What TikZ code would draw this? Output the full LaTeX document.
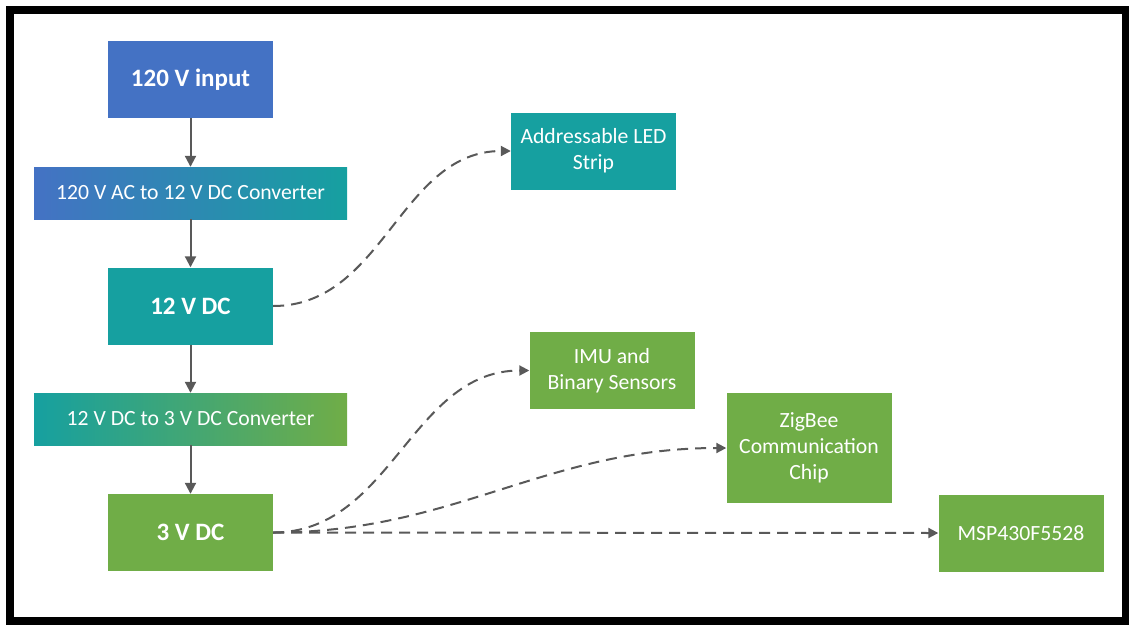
\documentclass[tikz,border=0pt]{standalone}
\usepackage{fontspec}
\setmainfont{Carlito}
\usepackage{tikz}
\usetikzlibrary{arrows.meta}
\definecolor{officeblue}{RGB}{68,114,196}
\definecolor{officeteal}{RGB}{22,160,160}
\definecolor{officegreen}{RGB}{112,173,71}
\definecolor{linegray}{RGB}{89,89,89}
\tikzstyle{block} = [rectangle, text=white, align=center, inner sep=0pt, font=\fontsize{21.7}{26}\selectfont]
\tikzstyle{supply} = [
    block,
    minimum width=165pt,
    minimum height=77pt,
    font=\fontsize{25}{30}\selectfont\bfseries
]
\tikzstyle{converter} = [block, minimum width=313pt, minimum height=52pt]
\tikzstyle{load} = [block, minimum width=165pt, minimum height=77pt]
\tikzstyle{feed} = [-{Triangle[length=11pt, width=11pt]}, draw=linegray, line width=2pt]
\tikzstyle{link} = [feed, -{Triangle[length=10pt, width=10pt]}, dash pattern=on 11pt off 7pt]

\begin{document}
\begin{tikzpicture}[x=1pt, y=-1pt]
    \useasboundingbox (0, 0) rectangle (1129, 624);

    % Frame.
    \draw [line width=8pt] (9.5, 10) rectangle (1126, 621);

    % Nodes.
    \node (supply ac) [supply, fill=officeblue] at (190.5, 79.5) {120 V input};
    \node (converter ac) [converter, left color=officeblue, right color=officeteal] at (190.5, 193) {120 V AC to 12 V DC Converter};
    \node (supply 12) [supply, fill=officeteal] at (190.5, 306) {12 V DC};
    \node (converter dc) [converter, left color=officeteal, right color=officegreen] at (190.5, 419) {12 V DC to 3 V DC Converter};
    \node (supply 3) [supply, fill=officegreen] at (190.5, 532.5) {3 V DC};

    \node (led strip) [load, fill=officeteal] at (593.5, 151) {Addressable LED\\Strip};
    \node (imu) [load, fill=officegreen] at (612, 370.5) {IMU and\\Binary Sensors};
    \node (zigbee) [load, fill=officegreen, minimum height=110pt] at (809, 448) {ZigBee\\Communication\\Chip};
    \node (msp) [load, fill=officegreen] at (1021, 533) {MSP430F5528};

    % Paths.
    \draw [feed] (supply ac) -- (converter ac);
    \draw [feed] (converter ac) -- (supply 12);
    \draw [feed] (supply 12) -- (converter dc);
    \draw [feed] (converter dc) -- (supply 3);

    % Loads.
    \draw [link] (supply 12.east) to [out=0, in=180] (led strip.west);
    \draw [link] (supply 3.east) to [out=0, in=180] (imu.west);
    \draw [link] (supply 3.east) to [out=0, in=180] (zigbee.west);
    \draw [link] (supply 3.east) -- (msp.west);
\end{tikzpicture}
\end{document}
